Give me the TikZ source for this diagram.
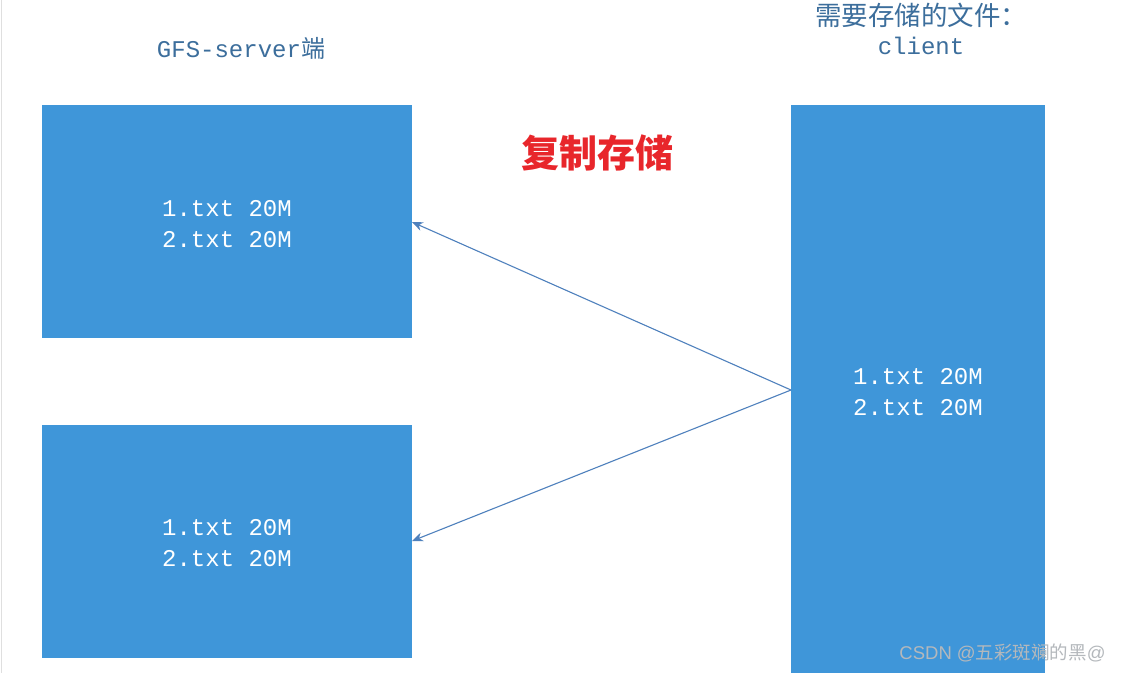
\documentclass[tikz,border=0pt]{standalone}
\usepackage{fontspec}
\setmainfont{Liberation Mono}
\newfontfamily\cjk{Noto Sans CJK SC}
\newfontfamily\sans{Liberation Sans}
\definecolor{boxblue}{HTML}{3F96D9}
\definecolor{arrowblue}{HTML}{4F81BD}
\definecolor{titleblue}{HTML}{3C6E9C}
\definecolor{redtxt}{HTML}{E8262B}
\definecolor{wmark}{HTML}{B4B8BC}
\usetikzlibrary{arrows.meta}
\tikzset{
  srvbox/.style={fill=boxblue, draw=none},
  filetxt/.style={text=white, font=\fontsize{24}{31}\selectfont, align=center, inner sep=0pt},
  title/.style={text=titleblue, font=\fontsize{24}{31}\selectfont, align=center, inner sep=0pt},
  conn/.style={draw=arrowblue, line width=1.1pt, -{Stealth[length=11pt,width=9pt]}},
}
\begin{document}
\begin{tikzpicture}[x=1pt,y=-1pt]
\useasboundingbox (0,0) rectangle (1122,673);
\fill[white] (0,0) rectangle (1122,673);
\draw[gray!25, line width=1pt] (1,0) -- (1,673);
% boxes
\path[srvbox] (42,105) rectangle (412,338);
\path[srvbox] (42,425) rectangle (412,658);
\path[srvbox] (791,105) rectangle (1045,673);
\coordinate (c) at (791,390);
\coordinate (s1in) at (412,222);
\coordinate (s2in) at (412,541);
\node[filetxt] (t1) at (227,224) {1.txt 20M\\2.txt 20M};
\node[filetxt] (t2) at (227,543) {1.txt 20M\\2.txt 20M};
\node[filetxt] (t3) at (918,392) {1.txt 20M\\2.txt 20M};
% titles
\node[title] (g) at (241,48) {GFS-server{\cjk 端}};
\node[title] (hz) at (921,15) {\cjk\fontsize{26.5}{26.5}\selectfont 需要存储的文件：};
\node[title] (h) at (921,46) {client};
% red label
\node[text=redtxt, font=\cjk\bfseries\fontsize{38}{38}\selectfont, inner sep=0pt] (r) at (597,153) {复制存储};
% connectors
\draw[conn] (c) -- (s1in);
\draw[conn] (c) -- (s2in);
% watermark
\node[text=wmark, font=\fontsize{18.5}{18.5}\selectfont, inner sep=0pt] (w) at (1002.5,652.5) {\sans CSDN @{\cjk 五彩斑斓的黑}@};
\end{tikzpicture}
\end{document}
